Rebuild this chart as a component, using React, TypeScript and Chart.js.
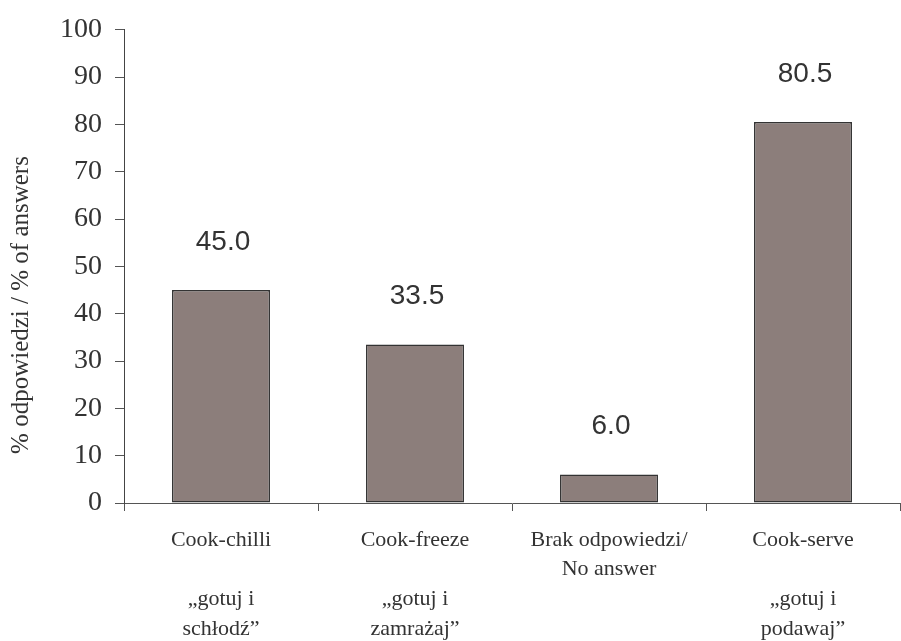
import React, { useEffect, useRef } from "react";
import { Chart, registerables } from "chart.js";

Chart.register(...registerables);

// Category labels (one array per category, each entry is a line)
const categoryLabels: string[][] = [
  ["Cook-chilli", "", "„gotuj i", "schłodź”"],
  ["Cook-freeze", "", "„gotuj i", "zamrażaj”"],
  ["Brak odpowiedzi/", "No answer"],
  ["Cook-serve", "", "„gotuj i", "podawaj”"],
];

// Share of answers, %
const answerShares: number[] = [45.0, 33.5, 6.0, 80.5];

// Value axis range
const axisMin = 0;
const axisMax = 100;
const axisStep = 10;

const axisTitle = "% odpowiedzi / % of answers";

const SERIF = "'Liberation Serif', 'Times New Roman', serif";
const SANS = "'Liberation Sans', Arial, sans-serif";
const TEXT = "#333333";
const AXIS = "#555555";

// Numbers above the bars
const valueLabelPlugin = {
  id: "valueLabels",
  afterDatasetsDraw(chart: any) {
    const { ctx } = chart;
    const meta = chart.getDatasetMeta(0);
    const data = chart.data.datasets[0].data as number[];
    ctx.save();
    ctx.font = `28px ${SANS}`;
    ctx.fillStyle = TEXT;
    ctx.textAlign = "center";
    ctx.textBaseline = "middle";
    meta.data.forEach((bar: any, i: number) => {
      ctx.fillText(data[i].toFixed(1), bar.x + 2, bar.y - 48);
    });
    ctx.restore();
  },
};

// Rotated value-axis title
const axisTitlePlugin = {
  id: "axisTitle",
  afterDraw(chart: any) {
    const { ctx } = chart;
    ctx.save();
    ctx.translate(21, 305);
    ctx.rotate(-Math.PI / 2);
    ctx.font = `25px ${SERIF}`;
    ctx.fillStyle = TEXT;
    ctx.textAlign = "center";
    ctx.textBaseline = "middle";
    ctx.fillText(axisTitle, 0, 0);
    ctx.restore();
  },
};

export default function App() {
  const canvasRef = useRef<HTMLCanvasElement | null>(null);

  useEffect(() => {
    if (!canvasRef.current) return;
    const chart = new Chart(canvasRef.current, {
      type: "bar",
      data: {
        labels: categoryLabels,
        datasets: [
          {
            data: answerShares,
            backgroundColor: "#8c7e7b",
            borderColor: "#333333",
            borderWidth: 1.5,
            borderSkipped: false,
            categoryPercentage: 1,
            barPercentage: 0.505,
          },
        ],
      },
      options: {
        animation: false,
        responsive: true,
        maintainAspectRatio: false,
        layout: { padding: { top: 28, right: 1, left: 0, bottom: 0 } },
        plugins: {
          legend: { display: false },
          tooltip: { enabled: false },
          title: { display: false },
        },
        scales: {
          x: {
            afterFit(scale: any) {
              scale.height = 138;
            },
            grid: {
              offset: true,
              drawOnChartArea: false,
              drawTicks: true,
              tickLength: 8,
              color: AXIS,
            },
            border: { display: true, color: AXIS, width: 1 },
            ticks: {
              color: TEXT,
              padding: 14,
              maxRotation: 0,
              autoSkip: false,
              font: { family: SERIF, size: 22, lineHeight: 1.35 },
            },
          },
          y: {
            min: axisMin,
            max: axisMax,
            afterFit(scale: any) {
              scale.width = 124;
            },
            grid: {
              drawOnChartArea: false,
              drawTicks: true,
              tickLength: 9,
              color: AXIS,
            },
            border: { display: true, color: "#444444", width: 1 },
            ticks: {
              stepSize: axisStep,
              color: TEXT,
              padding: 13,
              font: { family: SERIF, size: 28 },
            },
            title: { display: false },
          },
        },
      },
      plugins: [valueLabelPlugin, axisTitlePlugin],
    });
    return () => chart.destroy();
  }, []);

  return (
    <div style={{ position: "absolute", left: 0, top: 0, width: 901, height: 641, background: "#ffffff" }}>
      <canvas ref={canvasRef} />
    </div>
  );
}
